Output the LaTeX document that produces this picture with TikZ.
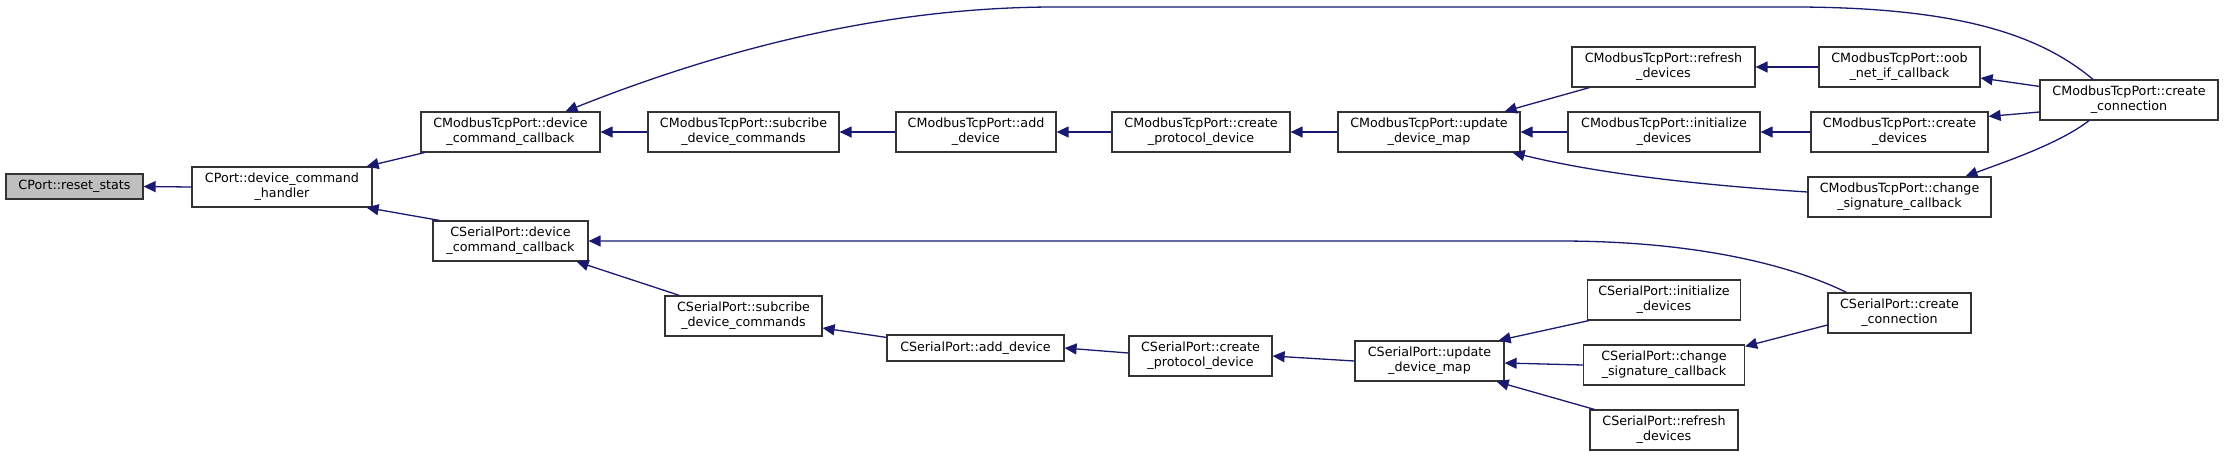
\documentclass[tikz,border=0pt]{standalone}
\usepackage{fontspec}
\setmainfont{DejaVu Sans}
\usetikzlibrary{arrows.meta}
\definecolor{edgec}{HTML}{191970}
\definecolor{nodegray}{HTML}{BFBFBF}
\begin{document}
\begin{tikzpicture}[x=1pt,y=-1pt,
  box/.style={draw=black!80, line width=1.2pt, fill=white, inner sep=0pt, align=center, minimum height=40pt, font=\fontsize{12.7}{15}\selectfont},
  arr/.style={draw=edgec, line width=1.3pt, -{Triangle[length=12pt,width=11pt]}}]
\useasboundingbox (0,0) rectangle (2224,456);
% nodes
\node[box, fill=nodegray, minimum width=137pt, minimum height=25pt] (reset) at (74.5,186.5) {CPort::reset\_stats};
\node[box, minimum width=180pt] (handler) at (282,187) {CPort::device\_command\\\_handler};
\node[box, minimum width=179pt] (mdcc) at (510.5,132) {CModbusTcpPort::device\\\_command\_callback};
\node[box, minimum width=191pt] (msub) at (743.5,132) {CModbusTcpPort::subcribe\\\_device\_commands};
\node[box, minimum width=160pt] (madd) at (976,132) {CModbusTcpPort::add\\\_device};
\node[box, minimum width=178pt] (mcpd) at (1201,132) {CModbusTcpPort::create\\\_protocol\_device};
\node[box, minimum width=182pt] (mudm) at (1429,132) {CModbusTcpPort::update\\\_device\_map};
\node[box, minimum width=183pt] (mref) at (1663.5,67) {CModbusTcpPort::refresh\\\_devices};
\node[box, minimum width=161pt] (moob) at (1899.5,67) {CModbusTcpPort::oob\\\_net\_if\_callback};
\node[box, minimum width=192pt] (minit) at (1664,132) {CModbusTcpPort::initialize\\\_devices};
\node[box, minimum width=177pt] (mcdev) at (1899.5,132) {CModbusTcpPort::create\\\_devices};
\node[box, minimum width=183pt] (mchg) at (1899.5,197) {CModbusTcpPort::change\\\_signature\_callback};
\node[box, minimum width=178pt] (mconn) at (2129,100) {CModbusTcpPort::create\\\_connection};
\node[box, minimum width=155pt] (sdcc) at (510.5,241) {CSerialPort::device\\\_command\_callback};
\node[box, minimum width=157pt] (ssub) at (743.5,316) {CSerialPort::subcribe\\\_device\_commands};
\node[box, minimum width=177pt, minimum height=26pt] (sadd) at (975.5,348) {CSerialPort::add\_device};
\node[box, minimum width=143pt] (scpd) at (1200.5,356) {CSerialPort::create\\\_protocol\_device};
\node[box, minimum width=149pt] (sudm) at (1429.5,361) {CSerialPort::update\\\_device\_map};
\node[box, minimum width=153pt] (sinit) at (1664,300) {CSerialPort::initialize\\\_devices};
\node[box, minimum width=161pt] (schg) at (1664,365) {CSerialPort::change\\\_signature\_callback};
\node[box, minimum width=148pt] (sref) at (1664,430) {CSerialPort::refresh\\\_devices};
\node[box, minimum width=143pt] (sconn) at (1899.5,313) {CSerialPort::create\\\_connection};
% edges
\draw[arr] (handler.west) -- (reset.east);
\draw[arr] ([xshift=4pt]mdcc.south west) -- ([xshift=-6pt]handler.north east);
\draw[arr] ([xshift=7pt]sdcc.north west) -- ([xshift=-6pt]handler.south east);
\draw[arr] (msub.west) -- (mdcc.east);
\draw[arr] (madd.west) -- (msub.east);
\draw[arr] (mcpd.west) -- (madd.east);
\draw[arr] (mudm.west) -- (mcpd.east);
\draw[arr] ([xshift=18pt]mref.south west) -- ([xshift=-16pt]mudm.north east);
\draw[arr] (minit.west) -- (mudm.east);
\draw[arr] ([yshift=5pt]mchg.west) .. controls (1700,185) and (1600,174) .. ([xshift=-8pt]mudm.south east);
\draw[arr] (moob.west) -- (mref.east);
\draw[arr] (mcdev.west) -- (minit.east);
\draw[arr] ([yshift=-7pt]mconn.north west) -- ([yshift=-11pt]moob.east);
\draw[arr] ([yshift=-12pt]mconn.west) -- ([yshift=-5pt]mcdev.north east);
\draw[arr] ([xshift=-40pt]mconn.south) .. controls (2060,143) and (2010,160) .. ([xshift=66pt]mchg.north);
\draw[arr] ([xshift=-36pt]mconn.north) .. controls (2040,35) and (1960,8) .. (1800,7) -- (1050,7) .. controls (880,8) and (720,50) .. ([xshift=55pt]mdcc.north);
\draw[arr] ([xshift=15pt]ssub.north west) -- ([xshift=-12pt]sdcc.south east);
\draw[arr] ([yshift=-3pt]sadd.north west) -- ([yshift=-12pt]ssub.east);
\draw[arr] ([yshift=3pt]scpd.west) -- (sadd.east);
\draw[arr] (sudm.west) -- (scpd.east);
\draw[arr] ([xshift=2pt]sinit.south west) -- ([xshift=-6pt]sudm.north east);
\draw[arr] (schg.west) -- ([yshift=-2pt]sudm.east);
\draw[arr] ([xshift=5pt]sref.north west) -- ([xshift=-8pt]sudm.south east);
\draw[arr] ([yshift=-12pt]sconn.west) -- ([yshift=-2pt]schg.north east);
\draw[arr] ([xshift=-53pt]sconn.north) .. controls (1780,260) and (1680,241) .. (1560,241) -- (sdcc.east);
\end{tikzpicture}
\end{document}
